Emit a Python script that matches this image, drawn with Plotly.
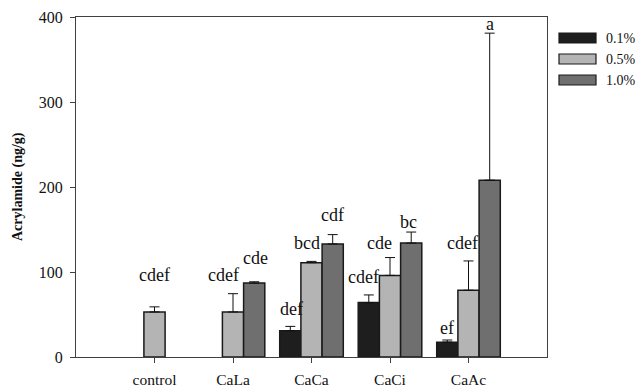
import plotly.graph_objects as go

categories = ["control", "CaLa", "CaCa", "CaCi", "CaAc"]
series_names = ["0.1%", "0.5%", "1.0%"]
mean_01 = [None, None, 31, 64, 17.5]
mean_05 = [53, 53, 111, 96, 78.5]
mean_10 = [None, 87, 133, 134, 208]
err_01 = [None, None, 5, 9, 2.5]
err_05 = [6, 21.5, 1.5, 21, 34.5]
err_10 = [None, 1.5, 11, 13, 173]
letters_01 = [None, None, "def", "cdef", "ef"]
letters_05 = ["cdef", "cdef", "bcd", "cde", "cdef"]
letters_10 = [None, "cde", "cdf", "bc", "a"]
label_y_01 = [None, None, 56, 94, 34]
label_y_05 = [96, 96, 134, 134, 134]
label_y_10 = [None, 117, 167, 159, 392]
label_dx_01 = [0, 0, 1, -5, 0]
label_dx_05 = [0, -10, -5, -11, -6]
label_dx_10 = [0, 1, 0, -3, 0]
y_ticks = [0, 100, 200, 300, 400]

colors = ["#1e1e1e", "#b4b4b4", "#6f6f6f"]
FONT = "Liberation Serif, Times New Roman, Times, serif"

W, H = 638, 388
L, R, T, B = 76, 91, 17, 31
PW, PH = W - L - R, H - T - B


def px_to_paper(px, py):
    return (px - L) / PW, (H - B - py) / PH


xs = list(range(1, len(categories) + 1))
means = [mean_01, mean_05, mean_10]
errs = [err_01, err_05, err_10]
letters = [letters_01, letters_05, letters_10]
label_ys = [label_y_01, label_y_05, label_y_10]
label_dxs = [label_dx_01, label_dx_05, label_dx_10]

fig = go.Figure()
for i in range(3):
    fig.add_trace(go.Bar(
        x=xs, y=means[i], name=series_names[i],
        marker=dict(color=colors[i], line=dict(color="#1a1a1a", width=1.5)),
        error_y=dict(type="data", symmetric=False, array=errs[i],
                     arrayminus=[0 if v is not None else None for v in errs[i]],
                     color="#111111", thickness=1, width=5),
        showlegend=False,
    ))

bargap = 0.19
bw = (1 - bargap) / 3
annotations = []
for i in range(3):
    for j, x in enumerate(xs):
        if letters[i][j] is None:
            continue
        annotations.append(dict(
            x=x + (i - 1) * bw, y=label_ys[i][j], xref="x", yref="y",
            xshift=label_dxs[i][j],
            text=letters[i][j], showarrow=False, xanchor="center", yanchor="middle",
            font=dict(family=FONT, size=18, color="#111111"),
        ))

# y-axis title
tx, ty = px_to_paper(18, 187)
annotations.append(dict(
    x=tx, y=ty, xref="paper", yref="paper", text="<b>Acrylamide (ng/g)</b>",
    textangle=-90, showarrow=False, xanchor="center", yanchor="middle",
    font=dict(family=FONT, size=14, color="#111111"),
))

# custom legend
shapes = []
row_y = [38, 59, 80]
for i in range(3):
    x0, y0 = px_to_paper(559, row_y[i] + 5)
    x1, y1 = px_to_paper(596, row_y[i] - 5)
    shapes.append(dict(type="rect", xref="paper", yref="paper", x0=x0, y0=y0, x1=x1, y1=y1,
                       fillcolor=colors[i], line=dict(color="#1a1a1a", width=1.2)))
    lx, ly = px_to_paper(604, row_y[i])
    annotations.append(dict(
        x=lx, y=ly, xref="paper", yref="paper", text=series_names[i], showarrow=False,
        xanchor="left", yanchor="middle", font=dict(family=FONT, size=14, color="#111111"),
    ))

fig.update_layout(
    width=W, height=H,
    margin=dict(l=L, r=R, t=T, b=B, pad=0, autoexpand=False),
    paper_bgcolor="white", plot_bgcolor="white",
    barmode="group", bargap=bargap, bargroupgap=0,
    font=dict(family=FONT, size=16, color="#111111"),
    annotations=annotations, shapes=shapes,
    showlegend=False,
)
fig.update_xaxes(
    range=[0, 6], tickmode="array", tickvals=xs, ticktext=categories, automargin=False,
    showline=True, linecolor="#404040", linewidth=1, mirror=True,
    ticks="outside", ticklen=5, tickcolor="#404040", showgrid=False, zeroline=False,
    tickfont=dict(family=FONT, size=15.5, color="#111111"), ticklabelstandoff=3,
)
fig.update_yaxes(
    range=[0, 400], tickmode="array", tickvals=y_ticks, automargin=False,
    showline=True, linecolor="#404040", linewidth=1, mirror=True,
    ticks="outside", ticklen=5, tickcolor="#404040", showgrid=False, zeroline=False,
    tickfont=dict(family=FONT, size=16, color="#111111"), ticklabelstandoff=4,
)

fig.write_html("out.html")
